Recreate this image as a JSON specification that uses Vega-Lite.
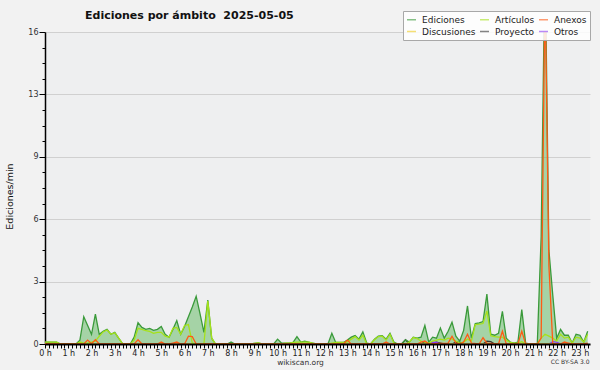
{
  "$schema": "https://vega.github.io/schema/vega-lite/v6.json",
  "width": 545,
  "height": 312,
  "autosize": "none",
  "padding": {"left": 45, "top": 32, "right": 10, "bottom": 26},
  "background": "#f2f2f2",
  "title": {"text": "Ediciones por ámbito\u00a0\u00a02025-05-05", "anchor": "start", "frame": "group", "dx": 40, "dy": 12, "offset": -7, "baseline": "alphabetic", "font": "DejaVu Sans", "fontSize": 11, "fontWeight": "bold", "color": "#111111"},
  "datasets": {
    "ed": [
      {"serie": "Proyecto", "min": 0, "valor": 0}, {"serie": "Proyecto", "min": 920, "valor": 0}, {"serie": "Proyecto", "min": 930, "valor": 0.22}, {"serie": "Proyecto", "min": 940, "valor": 0}, {"serie": "Proyecto", "min": 970, "valor": 0}, {"serie": "Proyecto", "min": 980, "valor": 0.12}, {"serie": "Proyecto", "min": 990, "valor": 0}, {"serie": "Proyecto", "min": 1000, "valor": 0.05}, {"serie": "Proyecto", "min": 1010, "valor": 0.1}, {"serie": "Proyecto", "min": 1020, "valor": 0.05}, {"serie": "Proyecto", "min": 1030, "valor": 0}, {"serie": "Proyecto", "min": 1050, "valor": 0}, {"serie": "Proyecto", "min": 1060, "valor": 0.1}, {"serie": "Proyecto", "min": 1070, "valor": 0.08}, {"serie": "Proyecto", "min": 1080, "valor": 0}, {"serie": "Proyecto", "min": 1130, "valor": 0}, {"serie": "Proyecto", "min": 1140, "valor": 0.15}, {"serie": "Proyecto", "min": 1150, "valor": 0.12}, {"serie": "Proyecto", "min": 1160, "valor": 0}, {"serie": "Proyecto", "min": 1400, "valor": 0},
      {"serie": "Otros", "min": 0, "valor": 0}, {"serie": "Otros", "min": 990, "valor": 0}, {"serie": "Otros", "min": 1000, "valor": 0.1}, {"serie": "Otros", "min": 1010, "valor": 0.08}, {"serie": "Otros", "min": 1020, "valor": 0}, {"serie": "Otros", "min": 1300, "valor": 0}, {"serie": "Otros", "min": 1310, "valor": 0.12}, {"serie": "Otros", "min": 1320, "valor": 0.1}, {"serie": "Otros", "min": 1330, "valor": 0}, {"serie": "Otros", "min": 1400, "valor": 0},
      {"serie": "Discusiones", "min": 0, "valor": 0}, {"serie": "Discusiones", "min": 1400, "valor": 0},
      {"serie": "Ediciones", "min": 0, "valor": 0.1}, {"serie": "Ediciones", "min": 10, "valor": 0.1}, {"serie": "Ediciones", "min": 20, "valor": 0.1}, {"serie": "Ediciones", "min": 30, "valor": 0.1}, {"serie": "Ediciones", "min": 40, "valor": 0}, {"serie": "Ediciones", "min": 50, "valor": 0}, {"serie": "Ediciones", "min": 60, "valor": 0}, {"serie": "Ediciones", "min": 70, "valor": 0}, {"serie": "Ediciones", "min": 80, "valor": 0}, {"serie": "Ediciones", "min": 90, "valor": 0.2},
      {"serie": "Ediciones", "min": 100, "valor": 1.4}, {"serie": "Ediciones", "min": 110, "valor": 0.95}, {"serie": "Ediciones", "min": 120, "valor": 0.5}, {"serie": "Ediciones", "min": 130, "valor": 1.53}, {"serie": "Ediciones", "min": 140, "valor": 0.5}, {"serie": "Ediciones", "min": 150, "valor": 0.65}, {"serie": "Ediciones", "min": 160, "valor": 0.75}, {"serie": "Ediciones", "min": 170, "valor": 0.5}, {"serie": "Ediciones", "min": 180, "valor": 0.6}, {"serie": "Ediciones", "min": 190, "valor": 0.3},
      {"serie": "Ediciones", "min": 200, "valor": 0.02}, {"serie": "Ediciones", "min": 210, "valor": 0}, {"serie": "Ediciones", "min": 220, "valor": 0}, {"serie": "Ediciones", "min": 230, "valor": 0.35}, {"serie": "Ediciones", "min": 240, "valor": 1.1}, {"serie": "Ediciones", "min": 250, "valor": 0.85}, {"serie": "Ediciones", "min": 260, "valor": 0.75}, {"serie": "Ediciones", "min": 270, "valor": 0.8}, {"serie": "Ediciones", "min": 280, "valor": 0.7}, {"serie": "Ediciones", "min": 290, "valor": 0.75},
      {"serie": "Ediciones", "min": 300, "valor": 0.9}, {"serie": "Ediciones", "min": 310, "valor": 0.5}, {"serie": "Ediciones", "min": 320, "valor": 0.35}, {"serie": "Ediciones", "min": 330, "valor": 0.75}, {"serie": "Ediciones", "min": 340, "valor": 1.2}, {"serie": "Ediciones", "min": 350, "valor": 0.5}, {"serie": "Ediciones", "min": 360, "valor": 0.9}, {"serie": "Ediciones", "min": 370, "valor": 1.4}, {"serie": "Ediciones", "min": 380, "valor": 1.9}, {"serie": "Ediciones", "min": 390, "valor": 2.45},
      {"serie": "Ediciones", "min": 400, "valor": 1.55}, {"serie": "Ediciones", "min": 410, "valor": 0.6}, {"serie": "Ediciones", "min": 420, "valor": 2.25}, {"serie": "Ediciones", "min": 430, "valor": 0.3}, {"serie": "Ediciones", "min": 440, "valor": 0}, {"serie": "Ediciones", "min": 450, "valor": 0}, {"serie": "Ediciones", "min": 460, "valor": 0}, {"serie": "Ediciones", "min": 470, "valor": 0}, {"serie": "Ediciones", "min": 480, "valor": 0.1}, {"serie": "Ediciones", "min": 490, "valor": 0},
      {"serie": "Ediciones", "min": 500, "valor": 0}, {"serie": "Ediciones", "min": 510, "valor": 0}, {"serie": "Ediciones", "min": 520, "valor": 0}, {"serie": "Ediciones", "min": 530, "valor": 0}, {"serie": "Ediciones", "min": 540, "valor": 0.03}, {"serie": "Ediciones", "min": 550, "valor": 0.05}, {"serie": "Ediciones", "min": 560, "valor": 0}, {"serie": "Ediciones", "min": 570, "valor": 0}, {"serie": "Ediciones", "min": 580, "valor": 0}, {"serie": "Ediciones", "min": 590, "valor": 0},
      {"serie": "Ediciones", "min": 600, "valor": 0.25}, {"serie": "Ediciones", "min": 610, "valor": 0.05}, {"serie": "Ediciones", "min": 620, "valor": 0.05}, {"serie": "Ediciones", "min": 630, "valor": 0.05}, {"serie": "Ediciones", "min": 640, "valor": 0.08}, {"serie": "Ediciones", "min": 650, "valor": 0.38}, {"serie": "Ediciones", "min": 660, "valor": 0.1}, {"serie": "Ediciones", "min": 670, "valor": 0.15}, {"serie": "Ediciones", "min": 680, "valor": 0.1}, {"serie": "Ediciones", "min": 690, "valor": 0.05},
      {"serie": "Ediciones", "min": 700, "valor": 0}, {"serie": "Ediciones", "min": 710, "valor": 0}, {"serie": "Ediciones", "min": 720, "valor": 0}, {"serie": "Ediciones", "min": 730, "valor": 0}, {"serie": "Ediciones", "min": 740, "valor": 0.55}, {"serie": "Ediciones", "min": 750, "valor": 0.08}, {"serie": "Ediciones", "min": 760, "valor": 0.08}, {"serie": "Ediciones", "min": 770, "valor": 0.08}, {"serie": "Ediciones", "min": 780, "valor": 0.2}, {"serie": "Ediciones", "min": 790, "valor": 0.35},
      {"serie": "Ediciones", "min": 800, "valor": 0.43}, {"serie": "Ediciones", "min": 810, "valor": 0.25}, {"serie": "Ediciones", "min": 820, "valor": 0.62}, {"serie": "Ediciones", "min": 830, "valor": 0.05}, {"serie": "Ediciones", "min": 840, "valor": 0}, {"serie": "Ediciones", "min": 850, "valor": 0.25}, {"serie": "Ediciones", "min": 860, "valor": 0.4}, {"serie": "Ediciones", "min": 870, "valor": 0.43}, {"serie": "Ediciones", "min": 880, "valor": 0.25}, {"serie": "Ediciones", "min": 890, "valor": 0.55},
      {"serie": "Ediciones", "min": 900, "valor": 0.1}, {"serie": "Ediciones", "min": 910, "valor": 0}, {"serie": "Ediciones", "min": 920, "valor": 0}, {"serie": "Ediciones", "min": 930, "valor": 0.22}, {"serie": "Ediciones", "min": 940, "valor": 0.1}, {"serie": "Ediciones", "min": 950, "valor": 0.35}, {"serie": "Ediciones", "min": 960, "valor": 0.3}, {"serie": "Ediciones", "min": 970, "valor": 0.35}, {"serie": "Ediciones", "min": 980, "valor": 0.95}, {"serie": "Ediciones", "min": 990, "valor": 0.1},
      {"serie": "Ediciones", "min": 1000, "valor": 0.35}, {"serie": "Ediciones", "min": 1010, "valor": 0.3}, {"serie": "Ediciones", "min": 1020, "valor": 0.82}, {"serie": "Ediciones", "min": 1030, "valor": 0.3}, {"serie": "Ediciones", "min": 1040, "valor": 0.65}, {"serie": "Ediciones", "min": 1050, "valor": 1.12}, {"serie": "Ediciones", "min": 1060, "valor": 0.4}, {"serie": "Ediciones", "min": 1070, "valor": 0.15}, {"serie": "Ediciones", "min": 1080, "valor": 0.7}, {"serie": "Ediciones", "min": 1090, "valor": 1.95},
      {"serie": "Ediciones", "min": 1100, "valor": 0.3}, {"serie": "Ediciones", "min": 1110, "valor": 1.05}, {"serie": "Ediciones", "min": 1120, "valor": 1.08}, {"serie": "Ediciones", "min": 1130, "valor": 1.15}, {"serie": "Ediciones", "min": 1140, "valor": 2.56}, {"serie": "Ediciones", "min": 1150, "valor": 0.5}, {"serie": "Ediciones", "min": 1160, "valor": 0.45}, {"serie": "Ediciones", "min": 1170, "valor": 0.55}, {"serie": "Ediciones", "min": 1180, "valor": 1.68}, {"serie": "Ediciones", "min": 1190, "valor": 0.3},
      {"serie": "Ediciones", "min": 1200, "valor": 0.1}, {"serie": "Ediciones", "min": 1210, "valor": 0.05}, {"serie": "Ediciones", "min": 1220, "valor": 0.1}, {"serie": "Ediciones", "min": 1230, "valor": 1.76}, {"serie": "Ediciones", "min": 1240, "valor": 0.05}, {"serie": "Ediciones", "min": 1250, "valor": 0}, {"serie": "Ediciones", "min": 1260, "valor": 0}, {"serie": "Ediciones", "min": 1270, "valor": 0}, {"serie": "Ediciones", "min": 1280, "valor": 5.5}, {"serie": "Ediciones", "min": 1290, "valor": 20},
      {"serie": "Ediciones", "min": 1300, "valor": 4.8}, {"serie": "Ediciones", "min": 1310, "valor": 2.5}, {"serie": "Ediciones", "min": 1320, "valor": 0.3}, {"serie": "Ediciones", "min": 1330, "valor": 0.75}, {"serie": "Ediciones", "min": 1340, "valor": 0.45}, {"serie": "Ediciones", "min": 1350, "valor": 0.45}, {"serie": "Ediciones", "min": 1360, "valor": 0.05}, {"serie": "Ediciones", "min": 1370, "valor": 0.5}, {"serie": "Ediciones", "min": 1380, "valor": 0.45}, {"serie": "Ediciones", "min": 1390, "valor": 0.1},
      {"serie": "Ediciones", "min": 1400, "valor": 0.65},
      {"serie": "Artículos", "min": 0, "valor": 0.1}, {"serie": "Artículos", "min": 10, "valor": 0.1}, {"serie": "Artículos", "min": 20, "valor": 0.1}, {"serie": "Artículos", "min": 30, "valor": 0.1}, {"serie": "Artículos", "min": 40, "valor": 0}, {"serie": "Artículos", "min": 80, "valor": 0}, {"serie": "Artículos", "min": 90, "valor": 0.1},
      {"serie": "Artículos", "min": 100, "valor": 0.05}, {"serie": "Artículos", "min": 110, "valor": 0.05}, {"serie": "Artículos", "min": 120, "valor": 0.1}, {"serie": "Artículos", "min": 130, "valor": 0.15}, {"serie": "Artículos", "min": 140, "valor": 0.4}, {"serie": "Artículos", "min": 150, "valor": 0.62}, {"serie": "Artículos", "min": 160, "valor": 0.72}, {"serie": "Artículos", "min": 170, "valor": 0.5}, {"serie": "Artículos", "min": 180, "valor": 0.58}, {"serie": "Artículos", "min": 190, "valor": 0.3},
      {"serie": "Artículos", "min": 200, "valor": 0.02}, {"serie": "Artículos", "min": 210, "valor": 0}, {"serie": "Artículos", "min": 220, "valor": 0}, {"serie": "Artículos", "min": 230, "valor": 0.2}, {"serie": "Artículos", "min": 240, "valor": 0.8}, {"serie": "Artículos", "min": 250, "valor": 0.75}, {"serie": "Artículos", "min": 260, "valor": 0.68}, {"serie": "Artículos", "min": 270, "valor": 0.65}, {"serie": "Artículos", "min": 280, "valor": 0.55}, {"serie": "Artículos", "min": 290, "valor": 0.6},
      {"serie": "Artículos", "min": 300, "valor": 0.6}, {"serie": "Artículos", "min": 310, "valor": 0.4}, {"serie": "Artículos", "min": 320, "valor": 0.35}, {"serie": "Artículos", "min": 330, "valor": 0.8}, {"serie": "Artículos", "min": 340, "valor": 0.85}, {"serie": "Artículos", "min": 350, "valor": 0.5}, {"serie": "Artículos", "min": 360, "valor": 0.95}, {"serie": "Artículos", "min": 370, "valor": 1.0}, {"serie": "Artículos", "min": 380, "valor": 0.05}, {"serie": "Artículos", "min": 390, "valor": 0},
      {"serie": "Artículos", "min": 400, "valor": 0}, {"serie": "Artículos", "min": 410, "valor": 0}, {"serie": "Artículos", "min": 420, "valor": 2.2}, {"serie": "Artículos", "min": 430, "valor": 0.3}, {"serie": "Artículos", "min": 440, "valor": 0}, {"serie": "Artículos", "min": 530, "valor": 0}, {"serie": "Artículos", "min": 540, "valor": 0.03}, {"serie": "Artículos", "min": 550, "valor": 0.05}, {"serie": "Artículos", "min": 560, "valor": 0}, {"serie": "Artículos", "min": 610, "valor": 0},
      {"serie": "Artículos", "min": 620, "valor": 0.05}, {"serie": "Artículos", "min": 630, "valor": 0.05}, {"serie": "Artículos", "min": 640, "valor": 0.08}, {"serie": "Artículos", "min": 650, "valor": 0.1}, {"serie": "Artículos", "min": 660, "valor": 0.1}, {"serie": "Artículos", "min": 670, "valor": 0.1}, {"serie": "Artículos", "min": 680, "valor": 0.1}, {"serie": "Artículos", "min": 690, "valor": 0.05}, {"serie": "Artículos", "min": 700, "valor": 0}, {"serie": "Artículos", "min": 730, "valor": 0},
      {"serie": "Artículos", "min": 740, "valor": 0.05}, {"serie": "Artículos", "min": 750, "valor": 0.08}, {"serie": "Artículos", "min": 760, "valor": 0.08}, {"serie": "Artículos", "min": 770, "valor": 0.08}, {"serie": "Artículos", "min": 780, "valor": 0.1}, {"serie": "Artículos", "min": 790, "valor": 0.25}, {"serie": "Artículos", "min": 800, "valor": 0.38}, {"serie": "Artículos", "min": 810, "valor": 0.2}, {"serie": "Artículos", "min": 820, "valor": 0.45}, {"serie": "Artículos", "min": 830, "valor": 0},
      {"serie": "Artículos", "min": 840, "valor": 0}, {"serie": "Artículos", "min": 850, "valor": 0.22}, {"serie": "Artículos", "min": 860, "valor": 0.38}, {"serie": "Artículos", "min": 870, "valor": 0.4}, {"serie": "Artículos", "min": 880, "valor": 0.2}, {"serie": "Artículos", "min": 890, "valor": 0.5}, {"serie": "Artículos", "min": 900, "valor": 0.05}, {"serie": "Artículos", "min": 910, "valor": 0}, {"serie": "Artículos", "min": 930, "valor": 0}, {"serie": "Artículos", "min": 940, "valor": 0.1},
      {"serie": "Artículos", "min": 950, "valor": 0.33}, {"serie": "Artículos", "min": 960, "valor": 0.28}, {"serie": "Artículos", "min": 970, "valor": 0.15}, {"serie": "Artículos", "min": 980, "valor": 0.1}, {"serie": "Artículos", "min": 990, "valor": 0.05}, {"serie": "Artículos", "min": 1000, "valor": 0.15}, {"serie": "Artículos", "min": 1010, "valor": 0.2}, {"serie": "Artículos", "min": 1020, "valor": 0.25}, {"serie": "Artículos", "min": 1030, "valor": 0.2}, {"serie": "Artículos", "min": 1040, "valor": 0.3},
      {"serie": "Artículos", "min": 1050, "valor": 0.25}, {"serie": "Artículos", "min": 1060, "valor": 0.15}, {"serie": "Artículos", "min": 1070, "valor": 0.05}, {"serie": "Artículos", "min": 1080, "valor": 0.1}, {"serie": "Artículos", "min": 1090, "valor": 0.25}, {"serie": "Artículos", "min": 1100, "valor": 0.15}, {"serie": "Artículos", "min": 1110, "valor": 1.0}, {"serie": "Artículos", "min": 1120, "valor": 1.02}, {"serie": "Artículos", "min": 1130, "valor": 1.05}, {"serie": "Artículos", "min": 1140, "valor": 1.7},
      {"serie": "Artículos", "min": 1150, "valor": 0.42}, {"serie": "Artículos", "min": 1160, "valor": 0.38}, {"serie": "Artículos", "min": 1170, "valor": 0.35}, {"serie": "Artículos", "min": 1180, "valor": 0.35}, {"serie": "Artículos", "min": 1190, "valor": 0.2}, {"serie": "Artículos", "min": 1200, "valor": 0.08}, {"serie": "Artículos", "min": 1210, "valor": 0.05}, {"serie": "Artículos", "min": 1220, "valor": 0.05}, {"serie": "Artículos", "min": 1230, "valor": 0.12}, {"serie": "Artículos", "min": 1240, "valor": 0},
      {"serie": "Artículos", "min": 1270, "valor": 0}, {"serie": "Artículos", "min": 1280, "valor": 0.3}, {"serie": "Artículos", "min": 1290, "valor": 0.5}, {"serie": "Artículos", "min": 1300, "valor": 0.4}, {"serie": "Artículos", "min": 1310, "valor": 0.3}, {"serie": "Artículos", "min": 1320, "valor": 0.15}, {"serie": "Artículos", "min": 1330, "valor": 0.5}, {"serie": "Artículos", "min": 1340, "valor": 0.3}, {"serie": "Artículos", "min": 1350, "valor": 0.35}, {"serie": "Artículos", "min": 1360, "valor": 0.05},
      {"serie": "Artículos", "min": 1370, "valor": 0.35}, {"serie": "Artículos", "min": 1380, "valor": 0.3}, {"serie": "Artículos", "min": 1390, "valor": 0.1}, {"serie": "Artículos", "min": 1400, "valor": 0.5},
      {"serie": "Anexos", "min": 0, "valor": 0}, {"serie": "Anexos", "min": 100, "valor": 0}, {"serie": "Anexos", "min": 110, "valor": 0.2}, {"serie": "Anexos", "min": 120, "valor": 0.02}, {"serie": "Anexos", "min": 130, "valor": 0.22}, {"serie": "Anexos", "min": 140, "valor": 0}, {"serie": "Anexos", "min": 230, "valor": 0}, {"serie": "Anexos", "min": 240, "valor": 0.22}, {"serie": "Anexos", "min": 250, "valor": 0}, {"serie": "Anexos", "min": 290, "valor": 0},
      {"serie": "Anexos", "min": 300, "valor": 0.1}, {"serie": "Anexos", "min": 310, "valor": 0}, {"serie": "Anexos", "min": 320, "valor": 0}, {"serie": "Anexos", "min": 330, "valor": 0.05}, {"serie": "Anexos", "min": 340, "valor": 0.1}, {"serie": "Anexos", "min": 350, "valor": 0}, {"serie": "Anexos", "min": 360, "valor": 0}, {"serie": "Anexos", "min": 370, "valor": 0.4}, {"serie": "Anexos", "min": 380, "valor": 0.38}, {"serie": "Anexos", "min": 390, "valor": 0},
      {"serie": "Anexos", "min": 770, "valor": 0}, {"serie": "Anexos", "min": 780, "valor": 0.2}, {"serie": "Anexos", "min": 790, "valor": 0}, {"serie": "Anexos", "min": 870, "valor": 0}, {"serie": "Anexos", "min": 880, "valor": 0.1}, {"serie": "Anexos", "min": 890, "valor": 0}, {"serie": "Anexos", "min": 960, "valor": 0}, {"serie": "Anexos", "min": 970, "valor": 0.1}, {"serie": "Anexos", "min": 980, "valor": 0.15}, {"serie": "Anexos", "min": 990, "valor": 0},
      {"serie": "Anexos", "min": 1040, "valor": 0.05}, {"serie": "Anexos", "min": 1050, "valor": 0.4}, {"serie": "Anexos", "min": 1060, "valor": 0.05}, {"serie": "Anexos", "min": 1070, "valor": 0}, {"serie": "Anexos", "min": 1080, "valor": 0.1}, {"serie": "Anexos", "min": 1090, "valor": 0.5}, {"serie": "Anexos", "min": 1100, "valor": 0.05}, {"serie": "Anexos", "min": 1120, "valor": 0}, {"serie": "Anexos", "min": 1130, "valor": 0.32}, {"serie": "Anexos", "min": 1140, "valor": 0.05},
      {"serie": "Anexos", "min": 1170, "valor": 0}, {"serie": "Anexos", "min": 1180, "valor": 0.65}, {"serie": "Anexos", "min": 1190, "valor": 0}, {"serie": "Anexos", "min": 1220, "valor": 0}, {"serie": "Anexos", "min": 1230, "valor": 0.66}, {"serie": "Anexos", "min": 1240, "valor": 0}, {"serie": "Anexos", "min": 1270, "valor": 0}, {"serie": "Anexos", "min": 1280, "valor": 0.3}, {"serie": "Anexos", "min": 1290, "valor": 18.5}, {"serie": "Anexos", "min": 1300, "valor": 4},
      {"serie": "Anexos", "min": 1310, "valor": 0}, {"serie": "Anexos", "min": 1330, "valor": 0}, {"serie": "Anexos", "min": 1340, "valor": 0.1}, {"serie": "Anexos", "min": 1350, "valor": 0.05}, {"serie": "Anexos", "min": 1360, "valor": 0}, {"serie": "Anexos", "min": 1390, "valor": 0}, {"serie": "Anexos", "min": 1400, "valor": 0.05}
    ]
  },
  "data": {"name": "ed"},
  "layer": [
    {
      "transform": [{"filter": "datum.serie == 'Ediciones'"}],
      "mark": {"type": "area", "color": "#5cb85c", "opacity": 0.5, "clip": true},
      "encoding": {
        "x": {"field": "min", "type": "quantitative", "scale": {"domain": [0, 1406], "nice": false, "zero": false},
          "axis": {"tickCount": 141, "labelExpr": "datum.value % 60 == 0 ? (datum.value / 60) + ' h' : ''", "labelOverlap": false, "labelFlush": false, "labelFont": "DejaVu Sans", "labelFontSize": 8, "labelColor": "#222222", "labelPadding": 1, "tickSize": 4, "tickColor": "#000000", "domainColor": "#000000", "domainWidth": 2, "grid": false, "title": "wikiscan.org", "titleFont": "DejaVu Sans", "titleFontSize": 7.5, "titleFontWeight": "normal", "titleColor": "#333333", "titleX": 255, "titleY": 20, "titleBaseline": "alphabetic", "zindex": 1}},
        "y": {"field": "valor", "type": "quantitative", "scale": {"domain": [0, 16], "nice": false},
          "axis": {"values": [0, 0.8, 1.6, 2.4, 3.2, 4, 4.8, 5.6, 6.4, 7.2, 8, 8.8, 9.6, 10.4, 11.2, 12, 12.8, 13.6, 14.4, 15.2, 16],
            "labelExpr": "abs(datum.value / 3.2 - round(datum.value / 3.2)) < 0.01 ? ((datum.value > 9 && datum.value < 10) ? '9' : format(datum.value, '.0f')) : ''",
            "tickSize": {"condition": {"test": "abs(datum.value / 3.2 - round(datum.value / 3.2)) < 0.01", "value": 6}, "value": 3},
            "gridOpacity": {"condition": {"test": "abs(datum.value / 3.2 - round(datum.value / 3.2)) < 0.01", "value": 1}, "value": 0},
            "grid": true, "gridColor": "#d0d0d0", "gridWidth": 1,
            "labelFont": "DejaVu Sans", "labelFontSize": 8, "labelColor": "#333333", "labelPadding": 1, "labelOverlap": false,
            "tickColor": "#000000", "domainColor": "#000000", "domainWidth": 1.5,
            "title": "Ediciones/min", "titleFont": "DejaVu Sans", "titleFontSize": 9.5, "titleFontWeight": "normal", "titleColor": "#111111", "titleX": -31, "titleY": 164, "titleBaseline": "bottom"}}
      }
    },
    {
      "mark": {"type": "line", "strokeWidth": 1.3, "clip": true},
      "encoding": {
        "x": {"field": "min", "type": "quantitative",
          "axis": {"orient": "bottom", "title": "CC BY-SA 3.0", "labels": false, "ticks": false, "domain": false, "grid": false, "titleFont": "DejaVu Sans", "titleFontSize": 6, "titleFontWeight": "normal", "titleColor": "#333333", "titleX": 544, "titleY": 19, "titleAlign": "right", "titleBaseline": "alphabetic"}},
        "y": {"field": "valor", "type": "quantitative", "axis": null},
        "color": {"field": "serie", "type": "nominal",
          "scale": {"domain": ["Ediciones", "Artículos", "Anexos", "Discusiones", "Proyecto", "Otros"], "range": ["#3a9a3a", "#a6e21a", "#ff5a14", "#f0cc1a", "#333333", "#8c3cf0"]},
          "legend": {"orient": "none", "legendX": 358, "legendY": -21, "direction": "horizontal", "columns": 3, "title": null, "symbolType": "stroke", "symbolSize": 81, "symbolStrokeWidth": 1.5, "symbolOpacity": 0.6, "labelFont": "DejaVu Sans", "labelFontSize": 9, "labelColor": "#222222", "labelOffset": 5, "columnPadding": 1, "rowPadding": 1, "padding": 3, "fillColor": "rgba(255,255,255,0.85)", "strokeColor": "#a8a8a8", "zindex": 1}}
      }
    }
  ],
  "resolve": {"axis": {"x": "independent", "y": "independent"}},
  "config": {"view": {"fill": "#eeeff0", "stroke": null}}
}
